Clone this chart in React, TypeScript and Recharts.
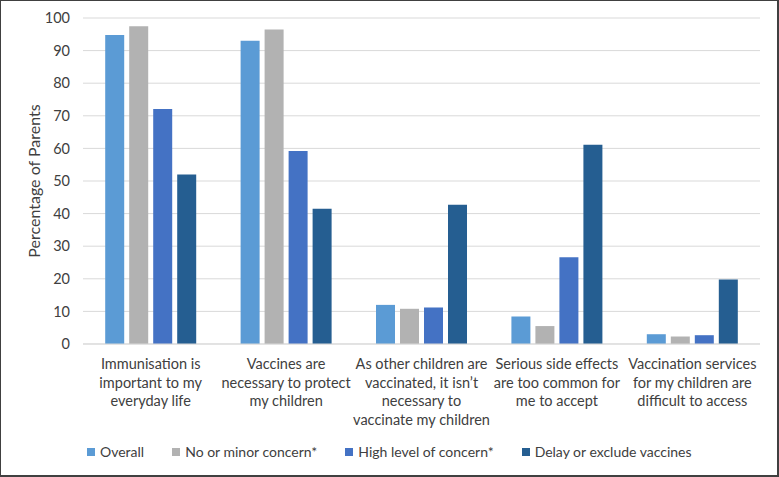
import React from 'react';
import { BarChart, Bar, XAxis, YAxis, CartesianGrid, Legend } from 'recharts';

const categories = [
  'Immunisation is\nimportant to my\neveryday life',
  'Vaccines are\nnecessary to protect\nmy children',
  'As other children are\nvaccinated, it isn\u2019t\nnecessary to\nvaccinate my children',
  'Serious side effects\nare too common for\nme to accept',
  'Vaccination services\nfor my children are\ndifficult to access',
];

const overall = [94.8, 93.0, 12.0, 8.4, 3.0];
const noMinorConcern = [97.5, 96.5, 10.8, 5.5, 2.3];
const highConcern = [72.1, 59.2, 11.2, 26.6, 2.7];
const delayExclude = [52.0, 41.5, 42.7, 61.1, 19.8];

const seriesNames = ['Overall', 'No or minor concern*', 'High level of concern*', 'Delay or exclude vaccines'];
const seriesColors = ['#5B9BD5', '#B2B2B2', '#4472C4', '#255E91'];
const yTicks = [0, 10, 20, 30, 40, 50, 60, 70, 80, 90, 100];

const FONT = 'Lato, "Open Sans", sans-serif';
const TEXT = '#404040';

const data = categories.map((c, i) => ({
  category: c,
  s0: overall[i],
  s1: noMinorConcern[i],
  s2: highConcern[i],
  s3: delayExclude[i],
}));

function CategoryTick(props: any) {
  const { x, y, payload } = props;
  const lines = String(payload.value).split('\n');
  return (
    <text x={x} y={y} textAnchor="middle" fill={TEXT} fontSize={14.5} fontFamily={FONT}>
      {lines.map((l, i) => (
        <tspan key={i} x={x} dy={i === 0 ? 25 : 18.5}>
          {l}
        </tspan>
      ))}
    </text>
  );
}

function YLabel(props: any) {
  const { x, y, height } = props.viewBox;
  const cx = x + 32;
  const cy = y + height / 2;
  return (
    <text
      x={cx}
      y={cy}
      transform={`rotate(-90 ${cx} ${cy})`}
      textAnchor="middle"
      dominantBaseline="central"
      fill={TEXT}
      fontSize={16}
      fontFamily={FONT}
    >
      Percentage of Parents
    </text>
  );
}

function LegendRow() {
  return (
    <div style={{ display: 'flex', paddingLeft: 86, fontFamily: FONT, fontSize: 14, color: TEXT, lineHeight: '21px' }}>
      {seriesNames.map((name, i) => (
        <div key={name} style={{ display: 'flex', alignItems: 'center', marginRight: 28 }}>
          <span style={{ display: 'inline-block', width: 8, height: 8, background: seriesColors[i], marginRight: 5 }} />
          <span>{name}</span>
        </div>
      ))}
    </div>
  );
}

export default function App() {
  return (
    <div
      style={{
        position: 'absolute',
        left: 0,
        top: 0,
        width: 779,
        height: 477,
        boxSizing: 'border-box',
        border: '1px solid #404040',
        borderRight: '2px solid #404040',
        borderBottom: '2px solid #404040',
        background: '#fff',
      }}
    >
      <BarChart
        width={776}
        height={474}
        data={data}
        margin={{ top: 17, right: 17, left: 0, bottom: 0 }}
        barGap={5}
        barCategoryGap="16.4%"
      >
        <CartesianGrid vertical={false} stroke="#D9D9D9" />
        <XAxis
          dataKey="category"
          height={97}
          interval={0}
          tickLine={false}
          tickSize={0}
          tickMargin={0}
          axisLine={{ stroke: '#D9D9D9' }}
          tick={<CategoryTick />}
        />
        <YAxis
          width={82}
          domain={[0, 100]}
          ticks={yTicks}
          axisLine={false}
          tickLine={false}
          tickSize={0}
          tickMargin={13}
          tick={{ fill: TEXT, fontSize: 14.5, fontFamily: FONT }}
          label={{ content: <YLabel /> }}
        />
        <Legend verticalAlign="bottom" height={34} wrapperStyle={{ left: 0, width: 776 }} content={<LegendRow />} />
        <Bar dataKey="s0" name={seriesNames[0]} fill={seriesColors[0]} isAnimationActive={false} />
        <Bar dataKey="s1" name={seriesNames[1]} fill={seriesColors[1]} isAnimationActive={false} />
        <Bar dataKey="s2" name={seriesNames[2]} fill={seriesColors[2]} isAnimationActive={false} />
        <Bar dataKey="s3" name={seriesNames[3]} fill={seriesColors[3]} isAnimationActive={false} />
      </BarChart>
    </div>
  );
}
